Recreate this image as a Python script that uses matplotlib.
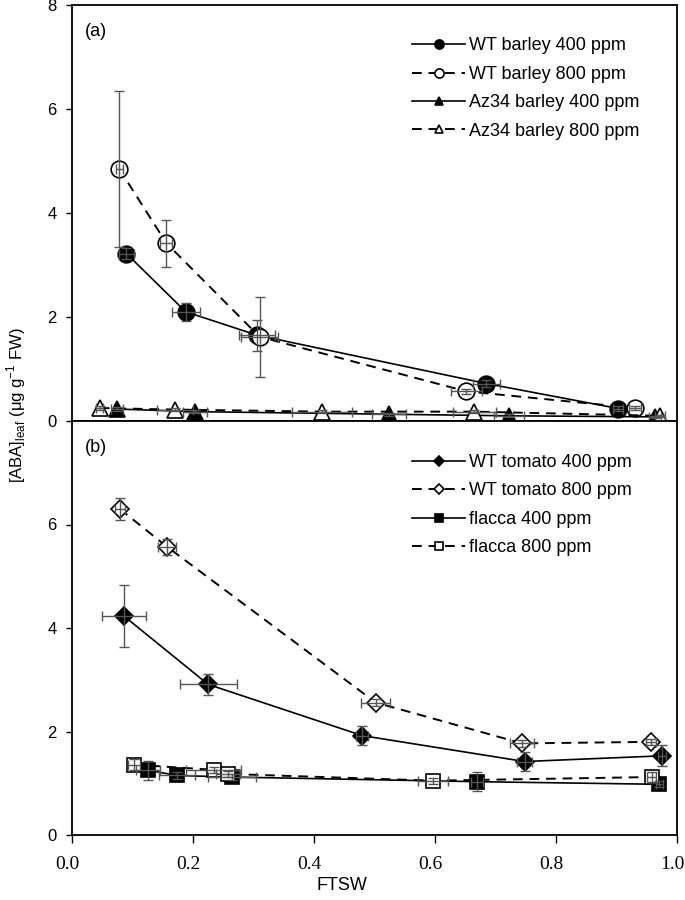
import matplotlib
matplotlib.use("Agg")
import matplotlib.pyplot as plt
import matplotlib.transforms as mtransforms
import numpy as np

# ---------------- data: panel (a) barley ----------------
wt400_x = [0.090, 0.188, 0.306, 0.685, 0.903]
wt400_y = [3.22, 2.10, 1.65, 0.72, 0.24]
wt400_xe = [0.013, 0.023, 0.030, 0.023, 0.008]
wt400_ye = [0.10, 0.17, 0.30, 0.06, 0.04]

wt800_x = [0.078, 0.156, 0.310, 0.652, 0.931]
wt800_y = [4.85, 3.42, 1.62, 0.57, 0.25]
wt800_xe = [0.006, 0.010, 0.030, 0.026, 0.010]
wt800_ye = [1.50, 0.45, 0.77, 0.05, 0.04]

az400_x = [0.074, 0.203, 0.524, 0.722, 0.964]
az400_y = [0.23, 0.18, 0.13, 0.10, 0.08]
az400_xe = [0.010, 0.020, 0.028, 0.025, 0.010]
az400_ye = [0.03, 0.03, 0.03, 0.03, 0.02]

az800_x = [0.046, 0.170, 0.413, 0.665, 0.972]
az800_y = [0.25, 0.22, 0.18, 0.18, 0.10]
az800_xe = [0.006, 0.030, 0.050, 0.035, 0.008]
az800_ye = [0.03, 0.03, 0.03, 0.03, 0.02]

# ---------------- data: panel (b) tomato ----------------
wtt400_x = [0.086, 0.225, 0.480, 0.748, 0.975]
wtt400_y = [4.23, 2.91, 1.92, 1.42, 1.53]
wtt400_xe = [0.037, 0.047, 0.010, 0.012, 0.006]
wtt400_ye = [0.60, 0.20, 0.18, 0.18, 0.20]

wtt800_x = [0.079, 0.157, 0.502, 0.744, 0.957]
wtt800_y = [6.30, 5.57, 2.56, 1.77, 1.80]
wtt800_xe = [0.008, 0.015, 0.024, 0.020, 0.008]
wtt800_ye = [0.22, 0.15, 0.06, 0.06, 0.06]

fl400_x = [0.126, 0.174, 0.264, 0.670, 0.971]
fl400_y = [1.25, 1.15, 1.12, 1.03, 0.98]
fl400_xe = [0.020, 0.030, 0.040, 0.010, 0.006]
fl400_ye = [0.18, 0.06, 0.06, 0.18, 0.06]

fl800_x = [0.102, 0.234, 0.258, 0.597, 0.958]
fl800_y = [1.36, 1.26, 1.18, 1.05, 1.12]
fl800_xe = [0.010, 0.045, 0.020, 0.025, 0.008]
fl800_ye = [0.10, 0.06, 0.06, 0.06, 0.10]

x_ticks = [0.0, 0.2, 0.4, 0.6, 0.8, 1.0]
x_ticklabels = ["0.0", "0.2", "0.4", "0.6", "0.8", "1.0"]
y_ticks_a = [0, 2, 4, 6, 8]
y_ticks_b = [0, 2, 4, 6]

# ---------------- figure ----------------
W, H = 685, 900
fig = plt.figure(figsize=(W / 100, H / 100), dpi=100)
left, right = 72, 677
ax1 = fig.add_axes([left / W, 1 - 421 / H, (right - left) / W, (421 - 5) / H])
ax2 = fig.add_axes([left / W, 1 - 835 / H, (right - left) / W, (835 - 421) / H])

xtickfont = dict(family="Liberation Serif", size=14)
ytickfont = dict(family="Liberation Sans", size=12)
ebcol = "#555555"


def series(ax, x, y, xe, ye, marker, filled, dashed, label, ms=11):
    ls = (0, (5, 3.5)) if dashed else "-"
    ax.plot(x, y, color="black", ls=ls, lw=1.4 if dashed else 1.2,
            marker=marker, ms=ms, mfc="black" if filled else "white",
            mec="black", mew=1.2, label=label, zorder=3)
    ax.errorbar(x, y, xerr=xe, yerr=ye, fmt="none", ecolor=ebcol,
                elinewidth=1.0, capsize=3.5, capthick=1.0, zorder=4)


series(ax1, wt400_x, wt400_y, wt400_xe, wt400_ye, "o", True, False, "WT barley 400 ppm", 12)
series(ax1, wt800_x, wt800_y, wt800_xe, wt800_ye, "o", False, True, "WT barley 800 ppm", 12)
series(ax1, az400_x, az400_y, az400_xe, az400_ye, "^", True, False, "Az34 barley 400 ppm", 11)
series(ax1, az800_x, az800_y, az800_xe, az800_ye, "^", False, True, "Az34 barley 800 ppm", 11)

series(ax2, wtt400_x, wtt400_y, wtt400_xe, wtt400_ye, "D", True, False, "WT tomato 400 ppm", 9)
series(ax2, wtt800_x, wtt800_y, wtt800_xe, wtt800_ye, "D", False, True, "WT tomato 800 ppm", 9)
series(ax2, fl400_x, fl400_y, fl400_xe, fl400_ye, "s", True, False, "flacca 400 ppm", 10)
series(ax2, fl800_x, fl800_y, fl800_xe, fl800_ye, "s", False, True, "flacca 800 ppm", 10)

for ax, top in ((ax1, 0.922), (ax2, 0.920)):
    ax.set_xlim(0, 1.0)
    ax.set_ylim(0, 8)
    for s in ax.spines.values():
        s.set_linewidth(1.3)
    ax.tick_params(axis="y", direction="out", length=4.5, width=1.0, pad=6.5)
    ax.tick_params(axis="x", direction="out", length=6, width=1.0)
    ax.legend(loc="upper left", bbox_to_anchor=(0.562, top), frameon=False,
              handlelength=2.95, handletextpad=0.2,
              labelspacing=0.63, borderpad=0, borderaxespad=0,
              markerscale=0.55, prop=dict(family="Liberation Sans", size=13))

ax1.set_yticks(y_ticks_a)
ax1.set_yticklabels([str(v) for v in y_ticks_a], **ytickfont)
ax1.set_xticks([])
ax2.set_yticks(y_ticks_b)
ax2.set_yticklabels([str(v) for v in y_ticks_b], **ytickfont)
ax2.set_xticks(x_ticks)
ax2.set_xticklabels(x_ticklabels, **xtickfont)
ax2.tick_params(axis="x", pad=9)
shift = mtransforms.ScaledTranslation(-5 / 100, 0, fig.dpi_scale_trans)
for lab in ax2.get_xticklabels():
    lab.set_transform(lab.get_transform() + shift)

ax1.text(0.0215, 0.937, "(a)", transform=ax1.transAxes, fontsize=13,
         family="Liberation Sans", va="center")
ax2.text(0.0215, 0.935, "(b)", transform=ax2.transAxes, fontsize=13,
         family="Liberation Sans", va="center")

fig.text(342 / W, 1 - 885 / H, "FTSW", ha="center", va="center",
         fontsize=13, family="Liberation Sans")
fig.text(16 / W, 1 - 405 / H, r"[ABA]$_{\mathregular{leaf}}$ ($\mathregular{\mu}$g g$^{\mathregular{-1}}$ FW)",
         rotation=90, ha="center", va="center", fontsize=12, family="Liberation Sans")

fig.savefig("out.png", dpi=100)
